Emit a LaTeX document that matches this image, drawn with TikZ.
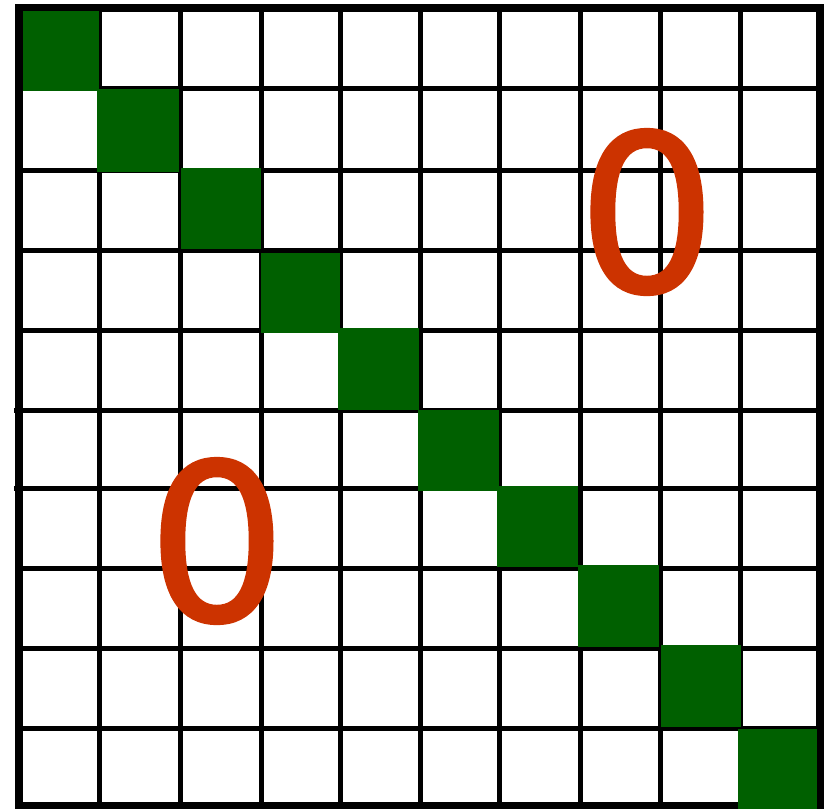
\documentclass[tikz,border=0pt]{standalone}
\usepackage{fontspec}
\setmainfont{DejaVu Sans}
\newfontfamily\zerofont[FakeBold=1.5]{DejaVu Sans}
\definecolor{diaggreen}{HTML}{006000}
\definecolor{zerored}{HTML}{CC3300}
\tikzset{gridline/.style={line width=5pt},cell/.style={fill=diaggreen},zero/.style={text=zerored,font=\zerofont\fontsize{218}{218}\selectfont,inner sep=0pt}}

\begin{document}
\begin{tikzpicture}[x=1pt,y=-1pt]
\useasboundingbox (0,0) rectangle (828,809);
% grid lines
\foreach \gx in {99,180,261,340,420,499,580,660,740} \draw[gridline] (\gx,8) -- (\gx,806);
\foreach \gy in {88,170,250,330,568,648,728} \draw[gridline] (19,\gy) -- (820,\gy);
\foreach \gy in {410,488} \draw[gridline] (14,\gy) -- (820,\gy);
% outer frame
\draw[line width=8pt] (19,8) rectangle (820,806);
% diagonal cells
\foreach \xa/\ya/\xb/\yb in {23/11/99/91,97/89/179/172,181/168/261/249,261/253/340/333,338/328/419/410,418/410/499/491,497/486/578/567,578/565/659/647,661/645/741/727,738/729/817/809}
  \fill[cell] (\xa,\ya) rectangle (\xb,\yb);
% zeros
\node[zero] (upperzero) at (647,212) {0};
\node[zero] (lowerzero) at (217,541) {0};
\end{tikzpicture}
\end{document}
